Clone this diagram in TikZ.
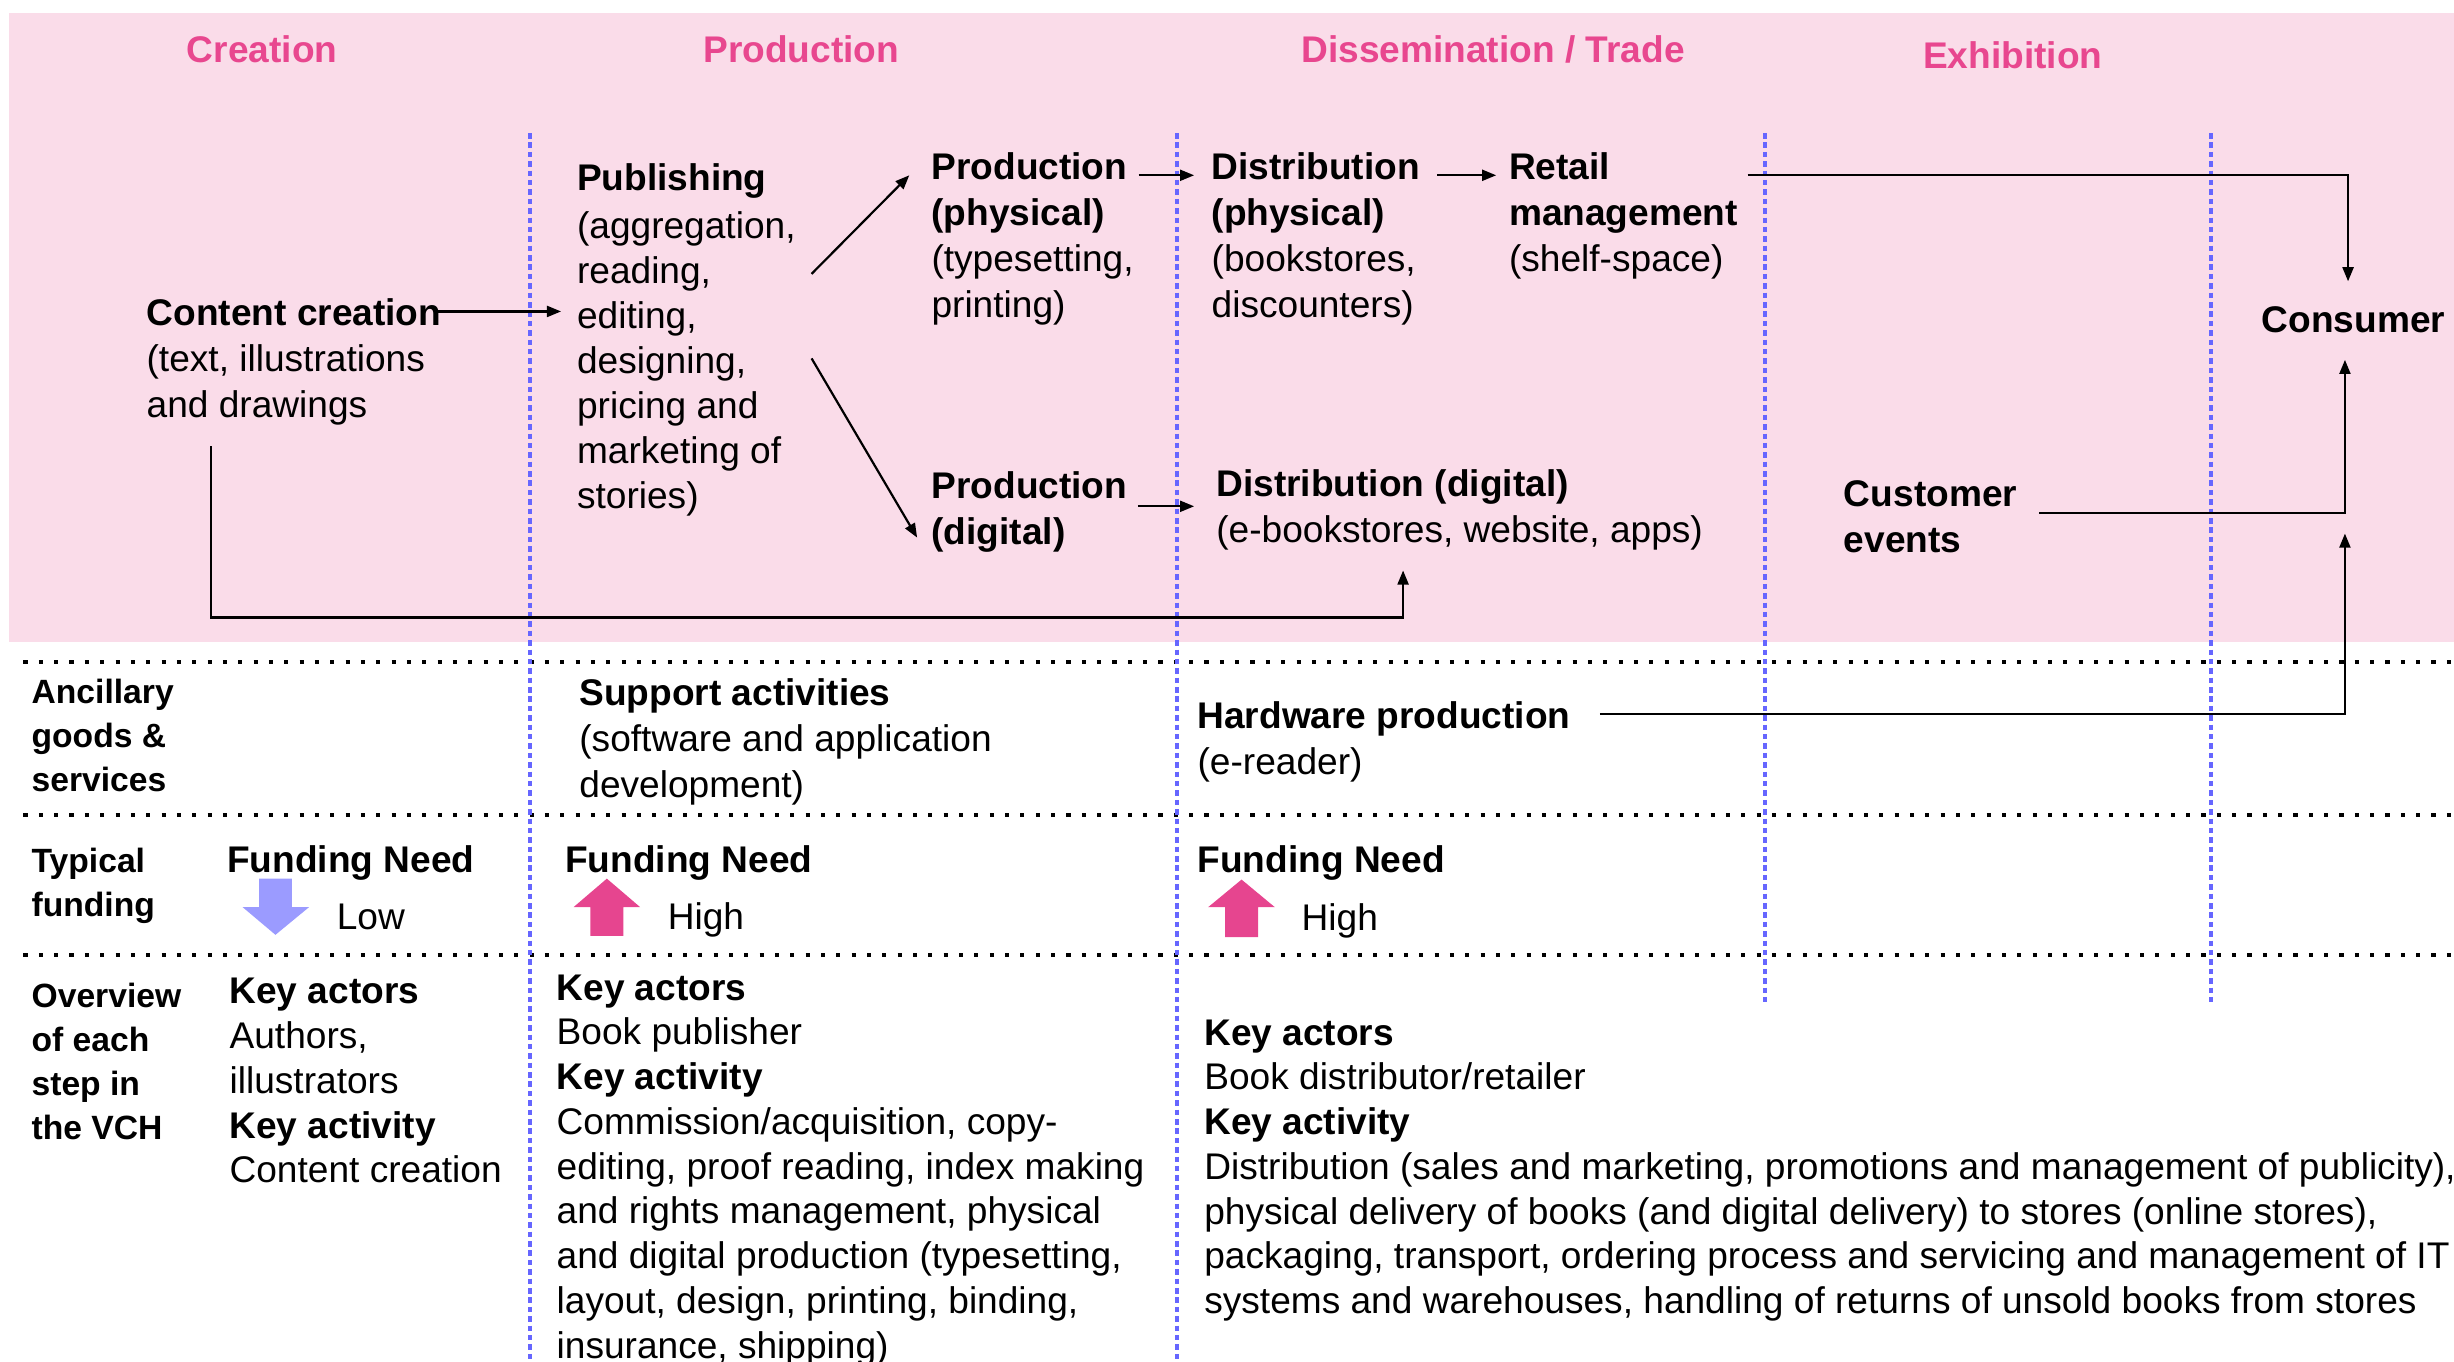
\documentclass[tikz,border=0pt]{standalone}
\usepackage{fontspec}
\setmainfont{Liberation Sans}
\usetikzlibrary{arrows.meta,calc}
\definecolor{bgpink}{HTML}{FADCE9}
\definecolor{hdrpink}{HTML}{E8478F}
\definecolor{uppink}{HTML}{E6458F}
\definecolor{lav}{HTML}{9B9BFF}
\definecolor{vline}{HTML}{6666FF}
\newcommand{\blk}[1]{\begin{tabular}[t]{@{}l@{}}#1\end{tabular}}
\tikzset{
  txt/.style={anchor=base west, inner sep=0pt, font=\fontsize{23.7}{29.4}\selectfont},
  pubtxt/.style={anchor=base west, inner sep=0pt, font=\fontsize{23.7}{28.8}\selectfont},
  ovtxt/.style={anchor=base west, inner sep=0pt, font=\fontsize{23.7}{28.6}\selectfont},
  lbl/.style={anchor=base west, inner sep=0pt, font=\fontsize{21.5}{28.2}\selectfont\bfseries},
  hdr/.style={anchor=base, inner sep=0pt, font=\fontsize{23.7}{28.8}\selectfont\bfseries, text=hdrpink},
  arr/.style={draw=black, line width=1.4pt, -{Triangle[length=9pt,width=7pt]}},
  blueline/.style={draw=vline, line width=2.6pt, dash pattern=on 3.5pt off 2.5pt},
  blackdots/.style={draw=black, line width=2.6pt, dash pattern=on 2.6pt off 7.2pt}
}
\begin{document}
\begin{tikzpicture}[x=1pt,y=-1pt]
\useasboundingbox (0,0) rectangle (1568,870);
% background
\fill[bgpink] (6,8) rectangle (1568,410);
% horizontal dotted separators
\draw[blackdots] (15,423) -- (1568,423);
\draw[blackdots] (15,521) -- (1568,521);
\draw[blackdots] (15,610) -- (1568,610);
% vertical blue dotted separators
\draw[blueline] (338.5,85) -- (338.5,870);
\draw[blueline] (752,85) -- (752,870);
\draw[blueline] (1127.5,85) -- (1127.5,640);
\draw[blueline] (1412.5,85) -- (1412.5,640);
% headers
\node[hdr] (hcre) at (167.5,39.7) {Creation};
\node[hdr] (hpro) at (512,39.7) {Production};
\node[hdr] (hdis) at (954,39.7) {Dissemination / Trade};
\node[hdr] (hexh) at (1286,43.8) {Exhibition};
% value chain nodes
\node[txt] (cc) at (93.5,208) {\blk{\textbf{Content creation}\\(text, illustrations\\and drawings}};
\node[pubtxt] (pub) at (368.5,122) {\blk{\textbf{Publishing}\\[1.5pt](aggregation,\\reading,\\editing,\\designing,\\pricing and\\marketing of\\stories)}};
\node[txt] (pphys) at (595,114.5) {\blk{\textbf{Production}\\\textbf{(physical)}\\(typesetting,\\printing)}};
\node[txt] (pdig) at (595,318.5) {\blk{\textbf{Production}\\\textbf{(digital)}}};
\node[txt] (dphys) at (774,114.5) {\blk{\textbf{Distribution}\\\textbf{(physical)}\\(bookstores,\\discounters)}};
\node[txt] (ddig) at (777,317) {\blk{\textbf{Distribution (digital)}\\(e-bookstores, website, apps)}};
\node[txt] (retail) at (964,114.5) {\blk{\textbf{Retail}\\\textbf{management}\\(shelf-space)}};
\node[txt] (cons) at (1445,212.5) {\textbf{Consumer}};
\node[txt] (cust) at (1178,323.5) {\blk{\textbf{Customer}\\\textbf{events}}};
% ancillary row
\node[lbl] (anc) at (20,449.3) {\blk{Ancillary\\goods \&\\services}};
\node[txt] (sup) at (370,450.5) {\blk{\textbf{Support activities}\\(software and application\\development)}};
\node[txt] (hw) at (765,465.5) {\blk{\textbf{Hardware production}\\(e-reader)}};
% funding row
\node[lbl] (typ) at (20,557.6) {\blk{Typical\\funding}};
\node[txt] (fn1) at (145,557.6) {\textbf{Funding Need}};
\node[txt] (low) at (215,594) {Low};
\node[txt] (fn2) at (361,557.6) {\textbf{Funding Need}};
\node[txt] (high2) at (426.5,594) {High};
\node[txt] (fn3) at (765,557.6) {\textbf{Funding Need}};
\node[txt] (high3) at (831.5,594.3) {High};
\fill[lav] (165.5,561.4) -- (186.5,561.4) -- (186.5,579.6) -- (197.5,579.6) -- (176,597.3) -- (155,579.6) -- (165.5,579.6) -- cycle;
\fill[uppink] (387.75,561.4) -- (409,579.6) -- (398.25,579.6) -- (398.25,598) -- (377.25,598) -- (377.25,579.6) -- (366.5,579.6) -- cycle;
\fill[uppink] (793.3,562) -- (814.5,579.6) -- (803.8,579.6) -- (803.8,598.8) -- (782.8,598.8) -- (782.8,579.6) -- (772,579.6) -- cycle;
% overview row
\node[lbl] (ovw) at (20,643.5) {\blk{Overview\\of each\\step in\\the VCH}};
\node[ovtxt] (ov1) at (146.5,641.4) {\blk{\textbf{Key actors}\\Authors,\\illustrators\\\textbf{Key activity}\\Content creation}};
\node[ovtxt] (ov2) at (355.5,639) {\blk{\textbf{Key actors}\\Book publisher\\\textbf{Key activity}\\Commission/acquisition, copy-\\editing, proof reading, index making\\and rights management, physical\\and digital production (typesetting,\\layout, design, printing, binding,\\insurance, shipping)}};
\node[ovtxt] (ov3) at (769.3,667.8) {\blk{\textbf{Key actors}\\Book distributor/retailer\\\textbf{Key activity}\\Distribution (sales and marketing, promotions and management of publicity),\\physical delivery of books (and digital delivery) to stores (online stores),\\packaging, transport, ordering process and servicing and management of IT\\systems and warehouses, handling of returns of unsold books from stores}};
% connectors
\draw[arr] ($(cc.base east)+(-5pt,9pt)$) -- ($(cc.base east -| pub.west)+(-10pt,9pt)$);
\draw[arr] ($(pub.base east)+(10pt,-53pt)$) -- ($(pphys.base west)+(-14pt,2.5pt)$);
\draw[arr] ($(pub.base east)+(10pt,-107pt)$) -- ($(pdig.base west)+(-9pt,-25pt)$);
\draw[arr] ($(pphys.base east)+(3pt,2.5pt)$) -- ($(pphys.base east -| dphys.west)+(-11pt,2.5pt)$);
\draw[arr] ($(pdig.base west)+(132pt,-5pt)$) -- ($(pdig.base west -| dphys.west)+(-11pt,-5pt)$);
\draw[arr] ($(dphys.base east)+(11pt,2.5pt)$) -- ($(dphys.base east -| retail.west)+(-8pt,2.5pt)$);
\draw[arr] ($(retail.base east)+(6pt,2.5pt)$) -| ($(cons.north)+(-3.5pt,16pt)$);
\draw[arr] ($(cust.base east)+(14pt,-4.4pt)$) -| ($(cons.south)+(-5.5pt,-17pt)$);
\draw[arr] ($(hw.base east)+(18.5pt,9.5pt)$) -| ($(cons.south)+(-5.5pt,-128pt)$);
\draw[arr] ($(cc.base west)+(41.5pt,-77pt)$) -- ++(0,109.6) -| ($(ddig.base west)+(119.5pt,-47.5pt)$);
\end{tikzpicture}
\end{document}
